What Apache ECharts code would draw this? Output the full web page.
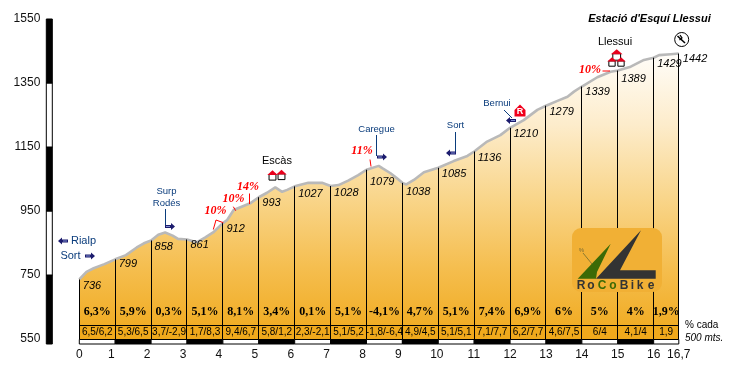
<!DOCTYPE html>
<html><head><meta charset="utf-8">
<style>html,body{margin:0;padding:0;background:#fff}#c{width:730px;height:370px}</style>
<script src="https://cdn.jsdelivr.net/npm/echarts@6/dist/echarts.min.js"></script>
</head><body><div id="c"></div>
<script>
// ---- data ----
const profileKm = [0,0.2,0.4,0.7,1,1.3,1.6,1.8,2,2.2,2.39,2.6,2.75,3,3.27,3.5,3.75,4,4.12,4.3,4.76,5,5.23,5.46,5.65,5.79,6,6.38,6.76,7,7.22,7.49,7.77,8,8.34,8.45,8.67,8.85,9,9.11,9.32,9.6,10,10.43,10.81,11,11.36,11.73,12,12.38,12.76,13,13.32,13.6,13.78,14,14.43,14.8,15,15.36,15.73,16,16.15,16.48,16.7];
const profileElev = [736,760,771,784,799,812,836,849,858,876,883,873,863,861,852,867,885,912,922,953,974,993,1007,1024,1010,1016,1027,1038,1038,1028,1031,1045,1062,1079,1091,1083,1068,1052,1038,1033,1047,1071,1085,1106,1122,1136,1167,1187,1210,1234,1266,1279,1294,1307,1323,1339,1368,1385,1389,1401,1422,1429,1437,1440,1442];
const tickKm = [0,1,2,3,4,5,6,7,8,9,10,11,12,13,14,15,16,16.7];
const tickElev = [736,799,858,861,912,993,1027,1028,1079,1038,1085,1136,1210,1279,1339,1389,1429,1442];
const slopeAvg = ['6,3%','5,9%','0,3%','5,1%','8,1%','3,4%','0,1%','5,1%','-4,1%','4,7%','5,1%','7,4%','6,9%','6%','5%','4%','1,9%'];
const slopeHalf = ['6,5/6,2','5,3/6,5','3,7/-2,9','1,7/8,3','9,4/6,7','5,8/1,2','2,3/-2,1','5,1/5,2','-1,8/-6,4','4,9/4,5','5,1/5,1','7,1/7,7','6,2/7,7','4,6/7,5','6/4','4,1/4','1,9'];
const yTicks = [550,750,950,1150,1350,1550];
const xLabelAt = [0,0.89,1.89,2.89,3.89,4.89,5.89,6.89,7.89,8.89,9.96,10.99,12,13,14,15,16,16.7];
const xLabels = ['0','1','2','3','4','5','6','7','8','9','10','11','12','13','14','15','16','16,7'];
const yMin = 534.375, yMax = 1550;

// ---- layout helpers ----
const labelDy = [6,5,6,5,6,6,8,7,12,9,6,6,6,6,5,8.5,6,5.5];
const NAVY = '#0a3c7c', RED = '#ff0000', SANS = '"Liberation Sans", Arial, sans-serif', SERIF = '"Liberation Serif", "Times New Roman", serif';

function txt(x, y, s, o) {
  o = o || {};
  return {type:'text', z:20, x, y, style:{text:s, fill:o.fill||'#000', font:(o.font||'12px '+SANS), textAlign:o.align||'center', textVerticalAlign:'middle'}};
}
function line(pts, color, w) {
  return {type:'polyline', z:20, shape:{points:pts}, style:{stroke:color, lineWidth:w||1, fill:null}};
}
function poly(pts, fill, stroke) {
  return {type:'polygon', z:20, shape:{points:pts}, style:{fill, stroke:stroke||null, lineWidth:stroke?1:0}};
}
function arrow(x, y, dir) {
  const d = dir;
  return [
    poly([[x,y-1.5],[x+6*d,y-1.5],[x+6*d,y-3.5],[x+10*d,y],[x+6*d,y+3.5],[x+6*d,y+1.5],[x,y+1.5]], '#1c1c6e'),
    {type:'rect', z:21, shape:{x:dir>0?x+1:x-5, y:y-0.5, width:4, height:1}, style:{fill:'#7f8fd0'}}
  ];
}
function house(cx, cy, s) {
  s = s || 1;
  return [
    {type:'rect', z:20, shape:{x:cx-3*s, y:cy-1*s, width:6*s, height:5*s}, style:{fill:'#fff', stroke:'#000', lineWidth:1}},
    poly([[cx-4.5*s,cy-0.5*s],[cx,cy-4.5*s],[cx+4.5*s,cy-0.5*s]], '#e8001c')
  ];
}

const g = [];
g.push(txt(649.5,19,"Estació d'Esquí Llessui",{font:'italic bold 11px '+SANS}));
g.push(txt(615,42,'Llessui',{font:'11px '+SANS}));
g.push(txt(277,160.5,'Escàs',{font:'11px '+SANS}));
g.push(txt(83.5,241,'Rialp',{fill:NAVY,font:'11px '+SANS}));
g.push(txt(70.5,256,'Sort',{fill:NAVY,font:'11px '+SANS}));
g.push(txt(166.5,191,'Surp',{fill:NAVY,font:'9.5px '+SANS}));
g.push(txt(166.5,203,'Rodés',{fill:NAVY,font:'9.5px '+SANS}));
g.push(txt(376.5,129,'Caregue',{fill:NAVY,font:'9.5px '+SANS}));
g.push(txt(455.5,125,'Sort',{fill:NAVY,font:'9.5px '+SANS}));
g.push(txt(497,103,'Bernui',{fill:NAVY,font:'9.5px '+SANS}));
g.push(...arrow(68,241,-1), ...arrow(85,256,1));
g.push(line([[165.5,209],[165.5,226]],NAVY), ...arrow(165,226.5,1));
g.push(line([[376.5,135],[376.5,156]],NAVY), ...arrow(377,157,1));
g.push(line([[455.5,132],[455.5,153]],NAVY), ...arrow(456,153,-1));
g.push(line([[504,110],[512,118]],NAVY), ...arrow(516,120.5,-1));
// climbs
const RB='italic bold 12px '+SERIF;
[[215.5,211,'10%'],[233.5,199,'10%'],[248,187,'14%'],[362,151,'11%'],[590,70,'10%']].forEach(a=>g.push(txt(a[0],a[1],a[2],{fill:RED,font:RB})));
g.push(line([[213.3,229.5],[216,220],[223.3,222.7]],RED));
g.push(line([[233.3,206.7],[235.7,210.7]],RED));
g.push(line([[249.5,193.5],[249.5,204]],RED));
g.push(line([[370,159.5],[371,166.5]],RED));
g.push(line([[602.5,71],[610,71]],RED));
// houses
g.push(...house(272.5,175.5,1.15), ...house(281.5,175,1.15));
g.push(...house(616.7,55,1.3), ...house(612,62,1.05), ...house(621,62,1.05));
// restaurant
g.push(poly([[514.5,110],[520,104.5],[525.5,110],[525.5,116.5],[514.5,116.5]],'#f0001c'));
g.push(txt(520,111.5,'R',{fill:'#fff',font:'bold 9px '+SANS}));
// ski sign
g.push({type:'circle',z:20,shape:{cx:681.7,cy:39.5,r:7},style:{fill:'#fff',stroke:'#000',lineWidth:1}});
g.push(line([[677.5,36],[685,43]],'#000',1.6), line([[680,35],[682,38],[679.5,40]],'#000',1.2));
// right note
g.push(txt(685,325.5,'% cada',{align:'left',font:'10px '+SANS}));
g.push(txt(685,338,'500 mts.',{align:'left',font:'italic 10px '+SANS}));
// logo
g.push({type:'rect',z:30,shape:{x:572,y:228,width:90,height:64,r:9},style:{fill:'#f1b035'}});
g.push({type:'polygon',z:31,shape:{points:[[610.7,243.7],[577.7,278.7],[596,278.7],[597,272]]},style:{fill:'#3c6a06'}});
g.push({type:'polygon',z:31,shape:{points:[[641,230.3],[596,278.7],[655.7,278.7],[655.7,270.3],[620,270.3]]},style:{fill:'#333333'}});
g.push({type:'polyline',z:31,shape:{points:[[583,253],[592,264]]},style:{stroke:'#8a7a30',lineWidth:1,fill:null}});
g.push({type:'text',z:31,x:581.5,y:250.5,style:{text:'%',fill:'#7a6a30',font:'6px '+SANS,textAlign:'center',textVerticalAlign:'middle'}});
[['R','#333',581],['o','#333',591],['C','#3c6a06',602],['o','#3c6a06',613],['B','#333',624],['i','#333',632.5],['k','#333',640],['e','#333',651]].forEach(l=>{
  g.push({type:'text',z:31,x:l[2],y:285.5,style:{text:l[0],fill:l[1],font:'bold 12px '+SANS,textAlign:'center',textVerticalAlign:'middle'}});
});

// ---- chart ----
const yBandEdges = [534.375,750,950,1150,1350,1550];
const chart = echarts.init(document.getElementById('c'),null,{renderer:'canvas'});
const px = v => Math.floor(v)+0.5;

chart.setOption({
  animation:false,
  backgroundColor:'#fff',
  grid:{left:79.3,top:19,width:599.5,height:325,containLabel:false},
  xAxis:{type:'value',min:0,max:16.7,
    axisLine:{show:false},axisTick:{show:false},splitLine:{show:false},
    axisLabel:{customValues:xLabelAt,margin:5,fontSize:12,fontFamily:'Liberation Sans',color:'#111',hideOverlap:false,showMinLabel:true,showMaxLabel:true,
      formatter:v=>xLabels[xLabelAt.indexOf(v)]}},
  yAxis:{type:'value',min:yMin,max:yMax,
    axisLine:{show:false},axisTick:{show:false},splitLine:{show:false},
    axisLabel:{customValues:yTicks,margin:39,fontSize:12,fontFamily:'Liberation Sans',color:'#111',formatter:v=>String(v)}},
  graphic:g,
  series:[
    // elevation bar at left
    {type:'custom',coordinateSystem:'cartesian2d',silent:true,z:3,clip:false,
     data:yBandEdges.slice(0,-1).map((e,i)=>[0,e,yBandEdges[i+1],i]),
     renderItem:(p,api)=>{
       const x0=api.coord([0,0])[0]-33, yb=api.coord([0,api.value(1)])[1], yt=api.coord([0,api.value(2)])[1];
       return {type:'rect',shape:{x:x0,y:yt,width:6,height:yb-yt},style:{fill:api.value(3)%2?'#fff':'#000',stroke:'#000',lineWidth:1}};
     }},
    // profile
    {type:'line',data:profileKm.map((k,i)=>[k,profileElev[i]]),symbol:'none',smooth:false,z:2,clip:false,
     lineStyle:{color:'#b9b9b9',width:2.6},
     areaStyle:{origin:550,opacity:1,color:new echarts.graphic.LinearGradient(0,0,0,1,[
       {offset:0,color:'#fffdf9'},{offset:0.25,color:'#fdeccb'},{offset:0.5,color:'#f9d68c'},{offset:0.75,color:'#f5be4f'},{offset:1,color:'#f0a91c'}])}},
    // slope band + km bar + slope labels
    {type:'custom',coordinateSystem:'cartesian2d',silent:true,z:4,clip:false,
     data:slopeAvg.map((s,i)=>[tickKm[i],tickKm[i+1],i]),
     renderItem:(p,api)=>{
       const a=api.value(0), b=api.value(1), i=api.value(2);
       const x0=api.coord([a,550]), x1=api.coord([b,550]), bot=api.coord([a,yMin])[1];
       const cx=(x0[0]+x1[0])/2;
       return {type:'group',children:[
         {type:'rect',shape:{x:x0[0],y:x0[1]-14,width:x1[0]-x0[0],height:14},style:{fill:'#f0a91c'}},
         {type:'line',shape:{x1:x0[0],y1:px(x0[1]-14),x2:x1[0],y2:px(x0[1]-14)},style:{stroke:'#000',lineWidth:1}},
         {type:'line',shape:{x1:x0[0],y1:px(x0[1]),x2:x1[0],y2:px(x0[1])},style:{stroke:'#000',lineWidth:1}},
         {type:'rect',shape:{x:x0[0],y:x0[1]+.5,width:x1[0]-x0[0],height:bot-x0[1]-.5},style:{fill:i%2?'#000':'#fff',stroke:'#000',lineWidth:1}},
         {type:'text',style:{text:slopeAvg[i],x:cx,y:x0[1]-27,align:'center',verticalAlign:'middle',fill:'#000',font:'bold 12px '+SERIF}},
         {type:'text',style:{text:slopeHalf[i],x:cx,y:x0[1]-6.5,align:'center',verticalAlign:'middle',fill:'#000',font:'10px '+SANS}}
       ]};
     }},
    // km verticals + elevation labels
    {type:'custom',coordinateSystem:'cartesian2d',silent:true,z:5,clip:false,
     data:tickKm.map((k,i)=>[k,tickElev[i],i]),
     renderItem:(p,api)=>{
       const i=api.value(2), top=api.coord([api.value(0),api.value(1)]), bot=api.coord([api.value(0),550]);
       const x=px(top[0]);
       return {type:'group',children:[
         {type:'line',shape:{x1:x,y1:top[1],x2:x,y2:bot[1]},style:{stroke:'#000',lineWidth:1}},
         {type:'text',style:{text:String(tickElev[i]),x:top[0]+(i===17?4:3.5),y:top[1]+labelDy[i],align:'left',verticalAlign:'middle',fill:'#000',font:'italic 11px '+SANS}}
       ]};
     }}
  ]
});
</script></body></html>
